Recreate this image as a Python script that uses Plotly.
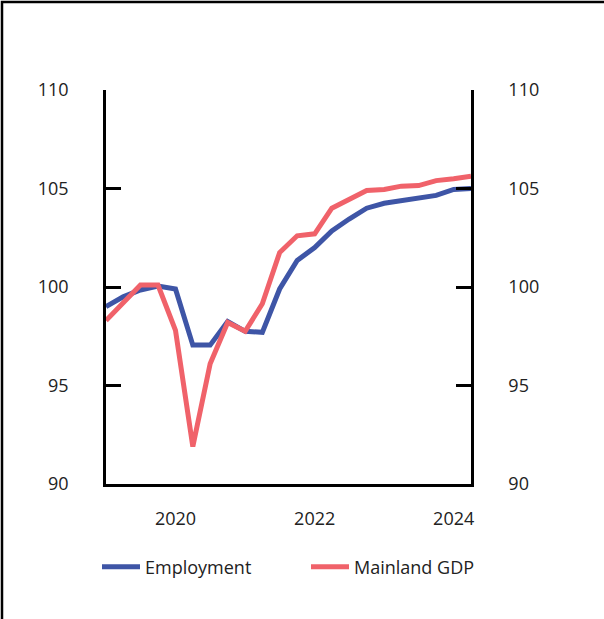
import plotly.graph_objects as go
import pandas as pd

quarters = pd.date_range("2019-01-01", "2024-04-01", freq="QS").strftime("%Y-%m-%d").tolist()
employment = [99.0, 99.5, 99.85, 100.05, 99.9, 97.05, 97.05, 98.25, 97.75, 97.7,
              99.9, 101.35, 102.0, 102.85, 103.45, 104.0, 104.25, 104.38, 104.48,
              104.65, 104.95, 105.0]
mainland_gdp = [98.3, 99.2, 100.1, 100.1, 97.8, 91.9, 96.1, 98.2, 97.75, 99.15,
                101.75, 102.6, 102.7, 104.0, 104.45, 104.9, 104.95, 105.12, 105.15,
                105.4, 105.5, 105.62]
series_names = ["Employment", "Mainland GDP"]
y_ticks = [90, 95, 100, 105, 110]
x_ticks = ["2020-01-01", "2022-01-01", "2024-01-01"]
x_labels = ["2020", "2022", "2024"]

BLUE = "#3E55A6"
RED = "#F0626A"
W, H = 604, 619
L, R, T, B = 106, 133, 90, 135
pw, ph = W - L - R, H - T - B

fig = go.Figure()
fig.add_trace(go.Scatter(x=quarters, y=employment, name=series_names[0], mode="lines",
                         line=dict(color=BLUE, width=5), yaxis="y"))
fig.add_trace(go.Scatter(x=quarters, y=mainland_gdp, name=series_names[1], mode="lines",
                         line=dict(color=RED, width=5), yaxis="y2"))

axis_common = dict(range=[90, 110], tickvals=y_ticks, ticks="inside", ticklen=15,
                   tickwidth=2.5, tickcolor="black", showline=True, linecolor="black",
                   linewidth=2.5, showgrid=False, zeroline=False,
                   ticklabelstandoff=31, tickfont=dict(size=18, color="#222"))

fig.update_layout(
    width=W, height=H,
    margin=dict(l=L, r=R, t=T, b=B, autoexpand=False),
    paper_bgcolor="white", plot_bgcolor="white",
    font=dict(family="Open Sans", size=18, color="#222"),
    hovermode=False,
    xaxis=dict(range=[quarters[0], quarters[-1]], tickvals=x_ticks, ticktext=x_labels,
               ticks="", showline=True, linecolor="black", linewidth=2.5,
               showgrid=False, zeroline=False, ticklabelstandoff=17,
               tickfont=dict(size=18, color="#222")),
    yaxis=dict(side="left", **axis_common),
    yaxis2=dict(side="right", overlaying="y", **axis_common),
    legend=dict(orientation="h", x=(97 - L) / pw, xanchor="left",
                y=(484 - 567) / ph, yanchor="middle",
                font=dict(size=18, color="#222"),
                entrywidth=156, itemwidth=38, bgcolor="rgba(0,0,0,0)"),
    showlegend=True,
)

# outer frame (left and top edges visible in the reference)
fig.add_shape(type="rect", xref="paper", yref="paper",
              x0=(2 - L) / pw, x1=(W + 10 - L) / pw,
              y0=(T + ph - (H + 10)) / ph, y1=(T + ph - 2) / ph,
              line=dict(color="black", width=2.5), fillcolor="rgba(0,0,0,0)", layer="below")

fig.write_html("out.html", config={"displayModeBar": False},
               post_script="document.body.style.margin='0';document.body.style.overflow='hidden';")
